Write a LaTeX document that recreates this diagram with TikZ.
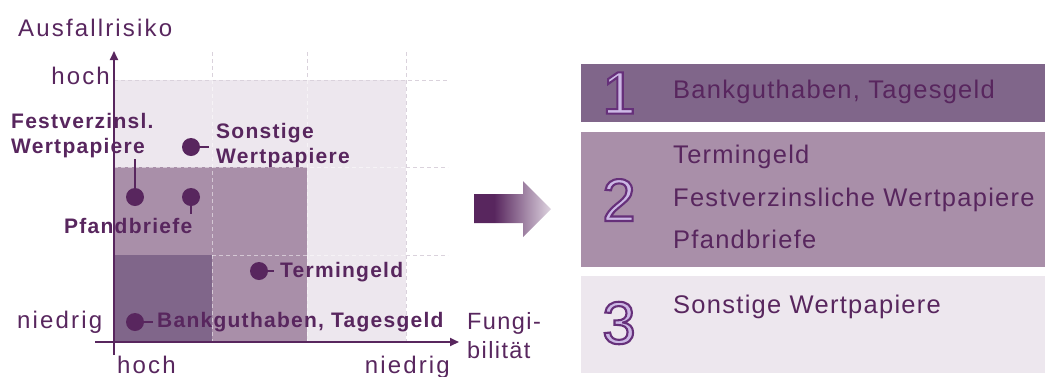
\documentclass[tikz,border=0pt]{standalone}
\usepackage{fontspec}
\setmainfont{Liberation Sans}
\usetikzlibrary{arrows.meta}
\newfontfamily\axfont[LetterSpace=9]{Liberation Sans}
\newfontfamily\fgfont[LetterSpace=6]{Liberation Sans}
\newfontfamily\lblfont[LetterSpace=6]{Liberation Sans}
\newfontfamily\boxfont[LetterSpace=5]{Liberation Sans}
\newfontfamily\digfont[FakeBold=3.5]{Liberation Sans}
\definecolor{dkp}{RGB}{88,38,94}
\definecolor{boxdark}{RGB}{128,102,138}
\definecolor{boxmed}{RGB}{169,143,169}
\definecolor{boxlight}{RGB}{237,231,238}
\definecolor{gridc}{RGB}{218,210,220}
\definecolor{arrlight}{RGB}{222,212,224}
\pgfdeclarehorizontalshading{arrsh}{100bp}{color(0bp)=(dkp); color(25bp)=(dkp); color(38bp)=(dkp); color(75bp)=(arrlight); color(100bp)=(arrlight)}
% digit: lavender fill, dark purple stroke
\newcommand\olnum[1]{%
  \special{pdf:bcolor [0.80 0.72 0.90] [0.40 0.19 0.48]}#1\special{pdf:ecolor}}
\tikzset{
  axlbl/.style={font=\axfont\fontsize{24}{28}\selectfont, text=dkp, inner sep=0pt},
  fglbl/.style={font=\fgfont\fontsize{23.5}{28}\selectfont, text=dkp, inner sep=0pt, anchor=base west},
  lbl/.style={font=\lblfont\bfseries\fontsize{21}{25}\selectfont, text=dkp, inner sep=0pt, anchor=base west},
  boxtxt/.style={font=\boxfont\fontsize{25.5}{30}\selectfont, text=dkp, inner sep=0pt, anchor=base west},
  dignum/.style={font=\digfont\fontsize{60}{70}\selectfont, inner sep=0pt},
  dot/.style={circle, fill=dkp, minimum size=18pt, inner sep=0pt},
  conn/.style={draw=dkp, line width=2pt},
  axisline/.style={draw=dkp, line width=2pt, -{Triangle[length=9pt,width=8pt]}},
  gridout/.style={draw=gridc, line width=1pt, dash pattern=on 4pt off 3pt},
  gridin/.style={draw=white, draw opacity=0.5, line width=1pt, dash pattern=on 4pt off 3pt},
}
\begin{document}
\begin{tikzpicture}[x=1pt, y=-1pt]
\useasboundingbox (0,0) rectangle (1045,376);
% chart fills
\fill[boxlight] (114,80) rectangle (406,342);
\fill[boxmed] (114,167) rectangle (307,342);
\fill[boxdark] (114,255) rectangle (212,342);
% grid
\draw[gridout] (212,52) -- (212,80);
\draw[gridout] (307,52) -- (307,80);
\draw[gridout] (406,52) -- (406,342);
\draw[gridout] (114,80) -- (448,80);
\draw[gridout] (406,167) -- (448,167);
\draw[gridout] (406,255) -- (448,255);
\draw[gridin] (212,80) -- (212,342);
\draw[gridin] (307,80) -- (307,342);
\draw[gridin] (114,167) -- (406,167);
\draw[gridin] (212,255) -- (406,255);
% axes
\coordinate (yb) at (114,355);
\coordinate (yt) at (114,51);
\coordinate (xl) at (95,342);
\coordinate (xr) at (459,342);
\draw[axisline] (yb) -- (yt);
\draw[axisline] (xl) -- (xr);
% axis labels
\node[axlbl, anchor=base west] (ya) at (18,36) {Ausfallrisiko};
\node[axlbl, anchor=base east] (yh) at (110,84) {hoch};
\node[axlbl, anchor=base west] (yn) at (17,328) {niedrig};
\node[axlbl, anchor=base west] (xh) at (117,373) {hoch};
\node[axlbl, anchor=base east] (xn) at (450,373) {niedrig};
\node[fglbl] (fg1) at (467,329) {Fungi-};
\node[fglbl] (fg2) at (467,358) {bilität};
% dots and connectors
\node[dot] (dfv) at (135,197) {};
\coordinate (cfv) at (135,159);
\draw[conn] (dfv) -- (cfv);
\node[dot] (dpf) at (191,197) {};
\coordinate (cpf) at (191,214);
\draw[conn] (dpf) -- (cpf);
\node[dot] (dso) at (191,147) {};
\coordinate (cso) at (209,147);
\draw[conn] (dso) -- (cso);
\node[dot] (dtg) at (259,271) {};
\coordinate (ctg) at (274,271);
\draw[conn] (dtg) -- (ctg);
\node[dot] (dbg) at (135,322) {};
\coordinate (cbg) at (153,322);
\draw[conn] (dbg) -- (cbg);
% chart labels
\node[lbl] (fv1) at (11,128) {Festverzinsl.};
\node[lbl] (fv2) at (11,153) {Wertpapiere};
\node[lbl] (so1) at (216,138) {Sonstige};
\node[lbl] (so2) at (216,163) {Wertpapiere};
\node[lbl] (pf) at (64,233) {Pfandbriefe};
\node[lbl] (tg) at (280,277) {Termingeld};
\node[lbl] (bg) at (157,327) {Bankguthaben, Tagesgeld};
% block arrow
\shade[shading=arrsh] (474,194) -- (523,194) -- (523,181) -- (551,209) -- (523,237) -- (523,223) -- (474,223) -- cycle;
% right boxes
\fill[boxdark] (581,64) rectangle (1045,122);
\fill[boxmed] (581,132) rectangle (1045,267);
\fill[boxlight] (581,276) rectangle (1045,373);
\node[dignum] (n1) at (619,93) {\olnum{1}};
\node[dignum] (n2) at (619,200) {\olnum{2}};
\node[dignum] (n3) at (619,323) {\olnum{3}};
\node[boxtxt] (t1) at (673,98) {Bankguthaben, Tagesgeld};
\node[boxtxt] (t2a) at (673,163) {Termingeld};
\node[boxtxt] (t2b) at (673,206) {Festverzinsliche Wertpapiere};
\node[boxtxt] (t2c) at (673,248) {Pfandbriefe};
\node[boxtxt] (t3) at (673,313) {Sonstige Wertpapiere};
\end{tikzpicture}
\end{document}
